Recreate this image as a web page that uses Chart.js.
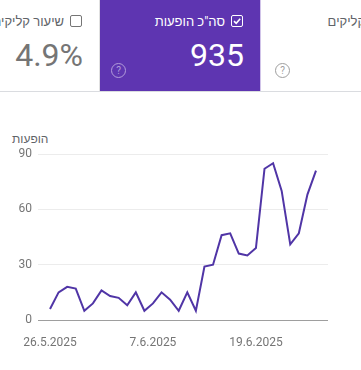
<!DOCTYPE html>
<html>
<head>
<meta charset="utf-8">
<script src="https://cdn.jsdelivr.net/npm/chart.js@4/dist/chart.umd.min.js"></script>
<style>
  html, body { margin: 0; padding: 0; background: #fff; }
  body { width: 361px; height: 370px; position: relative; overflow: hidden;
         font-family: Roboto, "Liberation Sans", Arial, sans-serif; }
  .cards { position: absolute; left: 0; top: 0; width: 361px; height: 91px;
           border-bottom: 1px solid #dadce0; overflow: hidden; }
  .card { position: absolute; top: 0; width: 160px; height: 91px; box-sizing: border-box; }
  .card .head { position: absolute; right: 17px; top: 14px; height: 14px;
                display: flex; align-items: center; direction: rtl; white-space: nowrap;
                font-size: 13px; color: #5f6368; }
  .card .box { width: 10px; height: 10px; border: 1.5px solid #757575; border-radius: 2px;
               margin-left: 6px; position: relative; }
  .card .num { position: absolute; right: 16px; top: 36px; font-size: 32px; line-height: 38px;
               color: #757575; }
  .card .help { position: absolute; left: 14px; top: 63px; width: 13px; height: 13px;
                border: 1.3px solid #9e9e9e; border-radius: 50%; font-size: 10px; line-height: 13px;
                text-align: center; color: #9e9e9e; }
  .card.on { background: #5e35b1; }
  .card.on .head { color: #fff; }
  .card.on .box { border-color: #fff; }
  .card.on .num { color: #fff; }
  .card.on .help { border-color: #b39ddb; color: #b39ddb; }
  .ytitle { position: absolute; left: 12px; top: 132px; font-size: 12px; color: #5f6368; direction: rtl; }
  #wrap { position: absolute; left: 0; top: 95px; width: 361px; height: 275px; }
</style>
</head>
<body>
<div class="cards">
  <div class="card" style="left:-60px; border-right:1px solid #e0e0e0;">
    <div class="head"><span class="box"></span>שיעור קליקים</div>
    <div class="num">4.9%</div>
  </div>
  <div class="card on" style="left:100px;">
    <div class="head"><span class="box"><svg width="10" height="10" viewBox="0 0 10 10" style="position:absolute;left:0;top:0"><path d="M2 5.2 L4.2 7.3 L8.2 2.8" stroke="#fff" stroke-width="1.6" fill="none"/></svg></span>סה"כ הופעות</div>
    <div class="num">935</div>
    <div class="help" style="left:11px;">?</div>
  </div>
  <div class="card" style="left:260px; border-left:1px solid #d1c4e9;">
    <div class="head" style="right:6px;"><span class="box"></span>סה"כ קליקים</div>
    <div class="help">?</div>
  </div>
</div>
<div class="ytitle">הופעות</div>
<div id="wrap"><canvas id="chart"></canvas></div>
<script>
// Daily impressions, 26.5.2025 - 26.6.2025
const days = [
  '26.5.2025', '27.5.2025', '28.5.2025', '29.5.2025', '30.5.2025', '31.5.2025',
  '1.6.2025', '2.6.2025', '3.6.2025', '4.6.2025', '5.6.2025', '6.6.2025',
  '7.6.2025', '8.6.2025', '9.6.2025', '10.6.2025', '11.6.2025', '12.6.2025',
  '13.6.2025', '14.6.2025', '15.6.2025', '16.6.2025', '17.6.2025', '18.6.2025',
  '19.6.2025', '20.6.2025', '21.6.2025', '22.6.2025', '23.6.2025', '24.6.2025',
  '25.6.2025', '26.6.2025'
];
const impressions = [
  6, 15, 18, 17, 5, 9, 16, 13, 12, 8, 15, 5,
  9, 15, 11, 5, 15, 5, 29, 30, 46, 47, 36, 35,
  39, 82, 85, 70, 41, 47, 68, 81
];
const xTickDays = ['26.5.2025', '7.6.2025', '19.6.2025'];
const yTicks = [0, 30, 60, 90];

Chart.defaults.font.family = 'Roboto, "Liberation Sans", sans-serif';
Chart.defaults.font.size = 12;
Chart.defaults.color = '#757575';

const ctx = document.getElementById('chart');
new Chart(ctx, {
    type: 'line',
    data: {
        datasets: [{
            label: 'הופעות',
            data: impressions.map((v, i) => ({ x: i, y: v })),
            borderColor: '#5035a6',
            borderWidth: 2,
            pointRadius: 0,
            tension: 0,
            fill: false
        }]
    },
    options: {
        responsive: true,
        maintainAspectRatio: false,
        animation: false,
        layout: { padding: { top: 59, right: 33, left: 0, bottom: 0 } },
        plugins: {
            legend: { display: false },
            tooltip: { enabled: false }
        },
        scales: {
            x: {
                type: 'linear',
                min: -1.4,
                max: days.length - 1 + 1.4,
                afterBuildTicks: function(scale) {
                    scale.ticks = xTickDays.map(d => ({ value: days.indexOf(d) }));
                },
                afterFit: function(scale) { scale.height = 50; },
                ticks: {
                    maxRotation: 0,
                    padding: 8,
                    color: '#757575',
                    callback: function(value) { return days[value]; }
                },
                grid: { display: false },
                border: { display: false }
            },
            y: {
                min: 0,
                max: 90,
                afterBuildTicks: function(scale) {
                    scale.ticks = yTicks.map(v => ({ value: v }));
                },
                afterFit: function(scale) { scale.width = 38; },
                ticks: { padding: 6, color: '#757575' },
                grid: {
                    drawTicks: false,
                    color: function(c) { return c.tick && c.tick.value === 0 ? '#9e9e9e' : '#ececec'; },
                    lineWidth: 1
                },
                border: { display: false }
            }
        }
    }
});
</script>
</body>
</html>
